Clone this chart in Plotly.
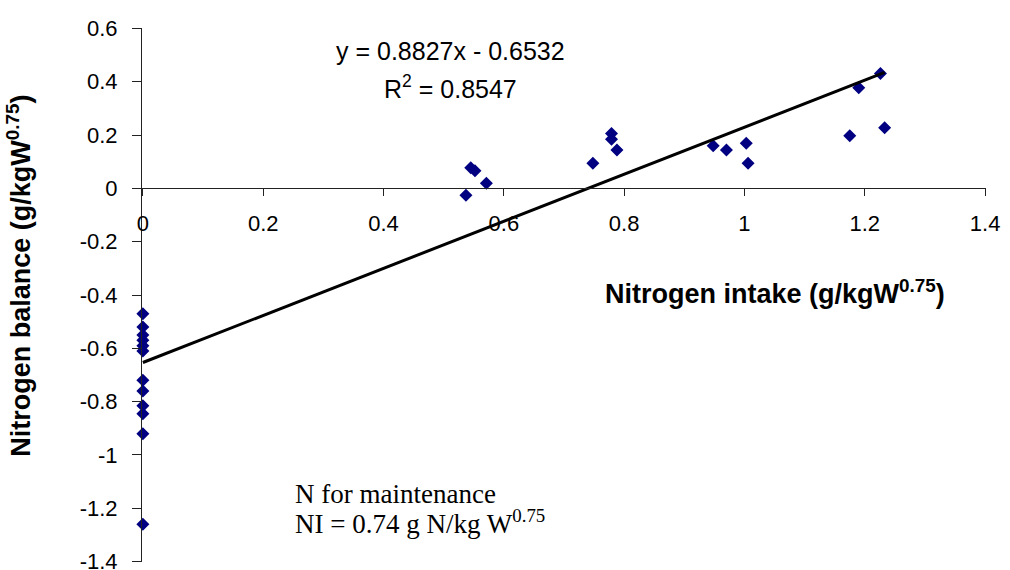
import plotly.graph_objects as go

# Nitrogen intake vs nitrogen balance (g/kgW^0.75)
n_intake = [0, 0, 0, 0, 0, 0, 0, 0, 0, 0, 0, 0,
            0.537, 0.545, 0.552, 0.571, 0.748, 0.779, 0.779, 0.788,
            0.948, 0.970, 1.003, 1.006, 1.175, 1.190, 1.226, 1.233]
n_balance = [-0.47, -0.52, -0.55, -0.57, -0.59, -0.61, -0.72, -0.76, -0.815, -0.845, -0.92, -1.26,
             -0.026, 0.077, 0.066, 0.019, 0.094, 0.206, 0.184, 0.144,
             0.160, 0.144, 0.169, 0.094, 0.197, 0.377, 0.431, 0.227]

# Linear fit reported on the chart
slope = 0.8827
intercept = -0.6532
r_squared = 0.8547

x_ticks = [0, 0.2, 0.4, 0.6, 0.8, 1.0, 1.2, 1.4]
x_tick_text = ["0", "0.2", "0.4", "0.6", "0.8", "1", "1.2", "1.4"]
y_ticks = [0.6, 0.4, 0.2, 0, -0.2, -0.4, -0.6, -0.8, -1.0, -1.2, -1.4]
y_tick_text = ["0.6", "0.4", "0.2", "0", "-0.2", "-0.4", "-0.6", "-0.8", "-1", "-1.2", "-1.4"]

SANS = "Liberation Sans, Arial, sans-serif"
SERIF = "Liberation Serif, Times New Roman, serif"

x_fit = [0, max(n_intake)]
y_fit = [slope * v + intercept for v in x_fit]

fig = go.Figure()
fig.add_trace(go.Scatter(
    x=n_intake, y=n_balance, mode="markers",
    marker=dict(symbol="diamond", size=10, color="#000080", line=dict(width=0)),
    cliponaxis=False, showlegend=False,
))
fig.add_trace(go.Scatter(
    x=x_fit, y=y_fit, mode="lines",
    line=dict(color="black", width=3),
    cliponaxis=False, showlegend=False,
))

x_min, x_max = 0, 1.4
y_min, y_max = -1.4, 0.6
pad = 0.0015
x_axis_pos = (0 - (y_min - pad)) / ((y_max + pad) - (y_min - pad))

tick_font = dict(family=SANS, size=22, color="black")

fig.update_layout(
    width=1010, height=570,
    margin=dict(l=142, r=24, t=28, b=8, autoexpand=False),
    paper_bgcolor="white", plot_bgcolor="white",
    font=dict(family=SANS, size=22, color="black"),
    xaxis=dict(
        range=[x_min - pad, x_max + pad], anchor="free", position=x_axis_pos,
        showline=True, linecolor="#222", linewidth=1,
        ticks="outside", ticklen=7, tickcolor="#222",
        tickvals=x_ticks, ticktext=x_tick_text, tickfont=tick_font,
        ticklabelstandoff=8, ticklabeloverflow="allow", automargin=False,
        showgrid=False, zeroline=False,
    ),
    yaxis=dict(
        range=[y_min - pad, y_max + pad], domain=[0, 1],
        showline=True, linecolor="#222", linewidth=1,
        ticks="outside", ticklen=9, tickcolor="#222",
        tickvals=y_ticks, ticktext=y_tick_text, tickfont=tick_font,
        ticklabelstandoff=10, ticklabeloverflow="allow", automargin=False,
        showgrid=False, zeroline=False,
    ),
)

annotations = [
    dict(text=f"y = {slope}x - {abs(intercept)}", x=0.511, y=0.515,
         xref="x", yref="y", showarrow=False, xanchor="center", yanchor="middle",
         font=dict(family=SANS, size=25)),
    dict(text=f"R<sup>2</sup> = {r_squared}", x=0.511, y=0.38,
         xref="x", yref="y", showarrow=False, xanchor="center", yanchor="middle",
         font=dict(family=SANS, size=25)),
    dict(text="<b>Nitrogen intake (g/kgW<sup>0.75</sup>)</b>", x=1.051, y=-0.39,
         xref="x", yref="y", showarrow=False, xanchor="center", yanchor="middle",
         font=dict(family=SANS, size=27)),
    dict(text="<b>Nitrogen balance (g/kgW<sup>0.75</sup>)</b>", x=-0.146, y=0.5356,
         xref="paper", yref="paper", showarrow=False, textangle=-90,
         xanchor="center", yanchor="middle",
         font=dict(family=SANS, size=27)),
    dict(text="N for maintenance", x=0.249, y=-1.146,
         xref="x", yref="y", showarrow=False, xanchor="left", yanchor="middle",
         font=dict(family=SERIF, size=27)),
    dict(text="NI = 0.74 g N/kg W<sup>0.75</sup>", x=0.249, y=-1.25,
         xref="x", yref="y", showarrow=False, xanchor="left", yanchor="middle",
         font=dict(family=SERIF, size=27)),
]
fig.update_layout(annotations=annotations)

fig.write_html("out.html")
